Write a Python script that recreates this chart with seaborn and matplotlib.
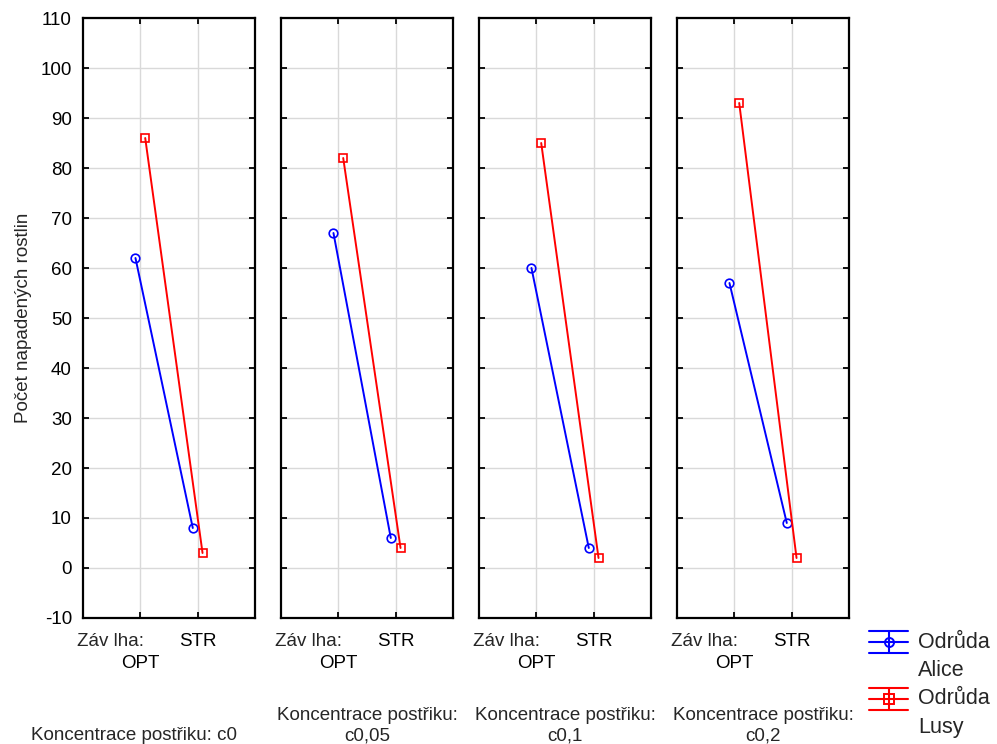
import matplotlib
matplotlib.use("Agg")
import matplotlib.pyplot as plt
from matplotlib.lines import Line2D
from matplotlib.transforms import blended_transform_factory
import seaborn as sns
import pandas as pd

# ---- data ----
concentrations = ["c0", "c0,05", "c0,1", "c0,2"]
panel_labels = ["Koncentrace postřiku: c0",
                "Koncentrace postřiku:\nc0,05",
                "Koncentrace postřiku:\nc0,1",
                "Koncentrace postřiku:\nc0,2"]
zavlaha = ["OPT", "STR"]
varieties = ["Alice", "Lusy"]
alice_values = [[62, 8], [67, 6], [60, 4], [57, 9]]
lusy_values = [[86, 3], [82, 4], [85, 2], [93, 2]]
y_ticks = list(range(-10, 111, 10))

rows = []
for ci, c in enumerate(concentrations):
    for zi, z in enumerate(zavlaha):
        rows.append({"konc": c, "zavlaha": z, "odruda": "Alice", "pocet": alice_values[ci][zi]})
        rows.append({"konc": c, "zavlaha": z, "odruda": "Lusy", "pocet": lusy_values[ci][zi]})
df = pd.DataFrame(rows)

sns.set_style("ticks")
plt.rcParams["font.family"] = ["Liberation Sans", "DejaVu Sans"]
plt.rcParams["axes.unicode_minus"] = False
FS = 13.5
plt.rcParams["font.size"] = FS

W, H = 997, 744
fig = plt.figure(figsize=(W / 100, H / 100), dpi=100)

BLUE = "#0000ff"
RED = "#ff0000"
panel_lefts = [83, 281, 479, 677]
panel_w = 172
top_px, bot_px = 18, 618
XPAD = 11.0       # points, tick label pad
LINE = 16.0       # points, one text line
label_centers = [134, 281 + 86, 479 + 86, 677 + 86]

def fx(px):
    return px / W

def fy(py):
    return 1 - py / H

for i, c in enumerate(concentrations):
    ax = fig.add_axes([fx(panel_lefts[i]), fy(bot_px), panel_w / W, (bot_px - top_px) / H])
    sub = df[df["konc"] == c]
    sns.pointplot(data=sub, x="zavlaha", y="pocet", hue="odruda",
                  order=zavlaha, hue_order=varieties,
                  palette=[BLUE, RED], markers=["o", "s"], linestyles=["-", "-"],
                  dodge=0.17, errorbar=None, ax=ax, legend=False,
                  markersize=6.2, linewidth=1.4, markeredgewidth=1.2)
    for ln in ax.lines:
        ln.set_markerfacecolor("none")
        ln.set_markeredgewidth(1.2)
        ln.set_zorder(3)
    for coll in ax.collections:
        coll.set_facecolor("none")
    ax.set_xlim(-1, 2)
    ax.set_ylim(-10, 110)
    ax.set_yticks(y_ticks)
    ax.set_xticks([0, 1], labels=zavlaha)
    ax.grid(True, color="#d9d9d9", linewidth=1)
    ax.set_axisbelow(True)
    for s in ax.spines.values():
        s.set_visible(True)
        s.set_linewidth(1.6)
        s.set_color("black")
    ax.tick_params(direction="in", length=4, width=1.3, top=True, right=True,
                   labelsize=FS, colors="black")
    ax.tick_params(axis="x", pad=XPAD)
    ax.tick_params(axis="y", pad=8)
    ax.set_xlabel("")
    if i == 0:
        ax.set_ylabel("Počet napadených rostlin", fontsize=FS, labelpad=6)
    else:
        ax.set_ylabel("")
        ax.set_yticklabels([])
    # first category label is two lines: "Záv lha:" (right-aligned to tick) then "OPT"
    ax.xaxis.get_major_ticks()[0].set_pad(XPAD + LINE)
    tr = blended_transform_factory(ax.transData, ax.transAxes)
    ax.annotate("Záv lha:", xy=(0.06, 0), xycoords=tr, xytext=(0, -XPAD),
                textcoords="offset points", ha="right", va="top", fontsize=FS)
    fig.text(fx(label_centers[i]), fy(744.5), panel_labels[i],
             ha="center", va="bottom", multialignment="center", fontsize=FS,
             linespacing=1.25)

# ---- legend (error-bar style glyphs) ----
def legend_entry(yc, color, marker, name):
    x0, x1, xm = 869, 908, 889
    for dy in (-11, 0, 11):
        fig.add_artist(Line2D([fx(x0), fx(x1)], [fy(yc + dy), fy(yc + dy)],
                              transform=fig.transFigure, color=color, lw=1.5))
    fig.add_artist(Line2D([fx(xm), fx(xm)], [fy(yc - 11), fy(yc + 11)],
                          transform=fig.transFigure, color=color, lw=1.5))
    fig.add_artist(Line2D([fx(xm)], [fy(yc)], transform=fig.transFigure,
                          marker=marker, markersize=6.5, mfc="none", mec=color, mew=1.4,
                          linestyle="none"))
    fig.text(fx(918), fy(yc), "Odrůda", ha="left", va="center", fontsize=15.5)
    fig.text(fx(918), fy(yc + 29), name, ha="left", va="center", fontsize=15.5)

legend_entry(642, BLUE, "o", "Alice")
legend_entry(699, RED, "s", "Lusy")

fig.savefig("out.png", dpi=100)
